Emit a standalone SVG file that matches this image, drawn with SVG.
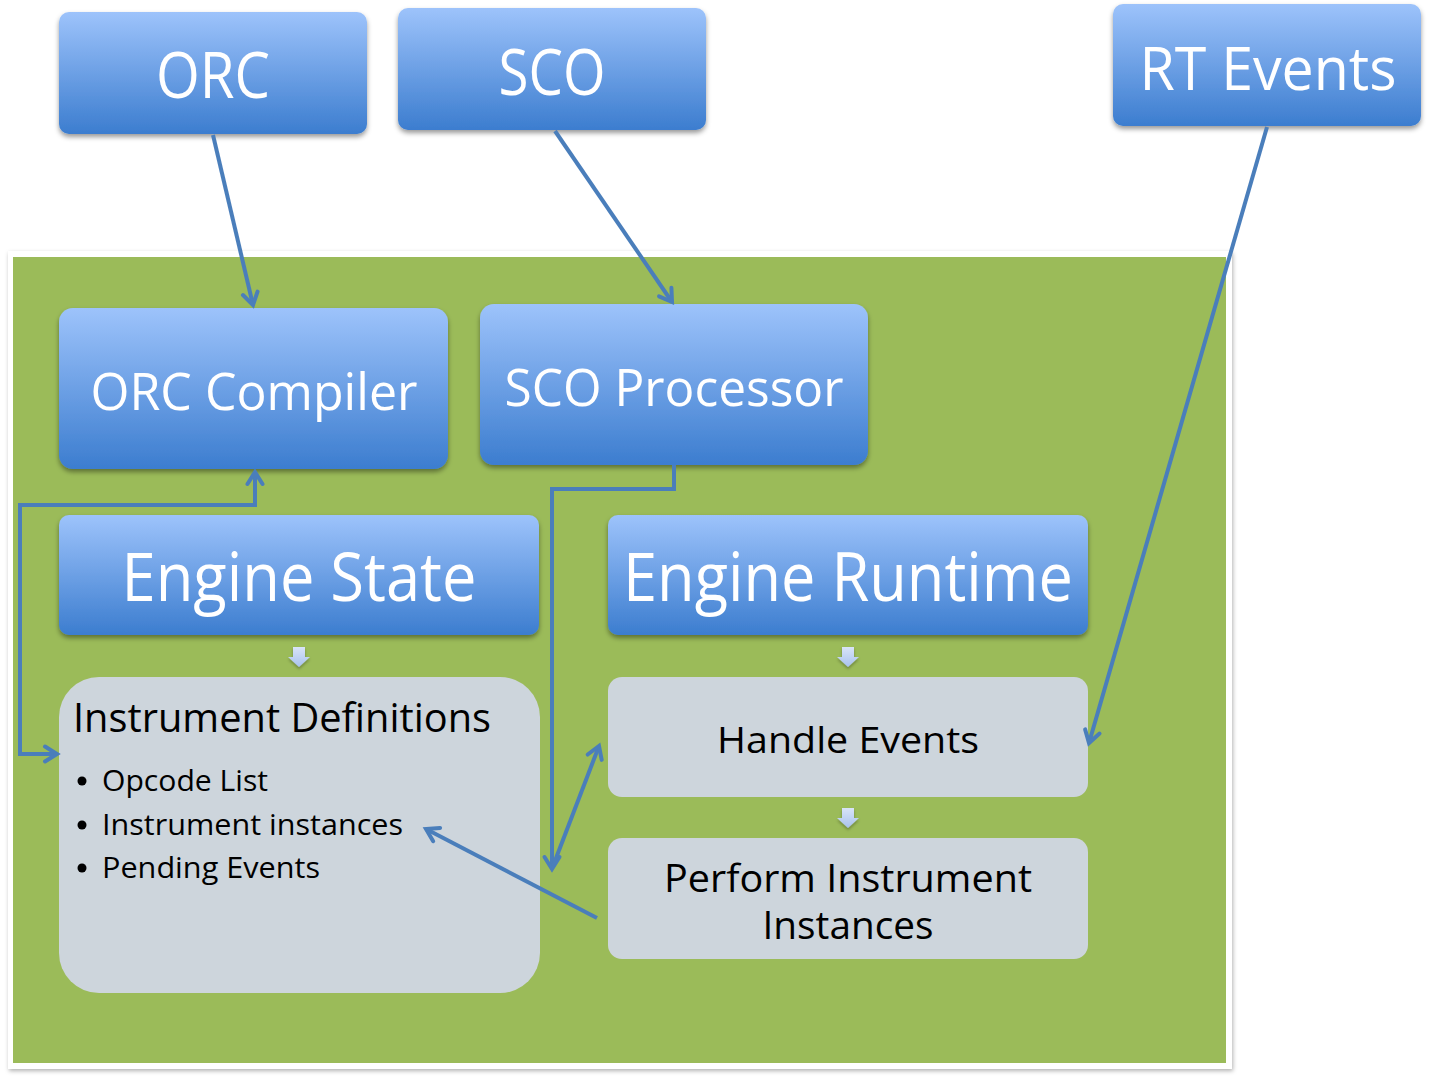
<svg xmlns="http://www.w3.org/2000/svg" width="1429" height="1080" viewBox="0 0 1429 1080">
<style>
.blue{fill:url(#gBlue);filter:url(#sh)}
.gray{fill:#cdd5dc}
.wt{font-family:"Open Sans","DejaVu Sans",sans-serif;fill:#ffffff;text-anchor:middle}
.bk{font-family:"Open Sans","DejaVu Sans",sans-serif;fill:#000000}
.bkc{font-family:"Open Sans","DejaVu Sans",sans-serif;fill:#000000;text-anchor:middle}
.con{fill:none;stroke:#4a7ebb;stroke-width:4;stroke-linejoin:miter}
.sa{fill:url(#gSmall);filter:url(#sh2)}
</style>
<defs>
<linearGradient id="gBlue" x1="0" y1="0" x2="0" y2="1">
<stop offset="0" stop-color="#9dc3fb"/>
<stop offset="1" stop-color="#3c7dcf"/>
</linearGradient>
<linearGradient id="gSmall" x1="0" y1="0" x2="0" y2="1">
<stop offset="0" stop-color="#d9e4f8"/>
<stop offset="1" stop-color="#a8c2ee"/>
</linearGradient>
<filter id="sh" x="-10%" y="-10%" width="120%" height="130%">
<feDropShadow dx="0" dy="3" stdDeviation="2.5" flood-color="#000" flood-opacity="0.4"/>
</filter>
<filter id="sh2" x="-50%" y="-50%" width="200%" height="200%">
<feDropShadow dx="0" dy="2" stdDeviation="1.5" flood-color="#000" flood-opacity="0.3"/>
</filter>
<filter id="sh3" x="-5%" y="-5%" width="110%" height="110%">
<feDropShadow dx="1" dy="2" stdDeviation="2" flood-color="#000" flood-opacity="0.3"/>
</filter>
<marker id="ah" markerUnits="userSpaceOnUse" markerWidth="30" markerHeight="30" viewBox="-15 -15 30 30" refX="0" refY="0" orient="auto-start-reverse">
<path d="M-12,-7.5 L0,0 L-12,7.5" fill="none" stroke="#4a7ebb" stroke-width="4" stroke-linecap="round" stroke-linejoin="miter"/>
</marker>
</defs>
<rect width="1429" height="1080" fill="#ffffff"/>

<g id="panel">
<rect x="8" y="251" width="1224" height="818" fill="#ffffff" filter="url(#sh3)"/>
<rect x="13" y="257" width="1213" height="806" fill="#9bbb59"/>
</g>

<g id="orc">
<rect class="blue" x="59" y="12" width="308" height="122" rx="10"/>
<text class="wt" x="213" y="98" font-size="64" textLength="114" lengthAdjust="spacingAndGlyphs">ORC</text>
</g>
<g id="sco">
<rect class="blue" x="398" y="8" width="308" height="122" rx="10"/>
<text class="wt" x="552" y="95" font-size="64" textLength="107" lengthAdjust="spacingAndGlyphs">SCO</text>
</g>
<g id="rt-events">
<rect class="blue" x="1113" y="4" width="308" height="122" rx="10"/>
<text class="wt" x="1268" y="90" font-size="60" textLength="257" lengthAdjust="spacingAndGlyphs">RT Events</text>
</g>
<g id="orc-compiler">
<rect class="blue" x="59" y="308" width="389" height="161" rx="14"/>
<text class="wt" x="254" y="410" font-size="52" textLength="327" lengthAdjust="spacingAndGlyphs">ORC Compiler</text>
</g>
<g id="sco-processor">
<rect class="blue" x="480" y="304" width="388" height="161" rx="14"/>
<text class="wt" x="674" y="406" font-size="52" textLength="339" lengthAdjust="spacingAndGlyphs">SCO Processor</text>
</g>
<g id="engine-state">
<rect class="blue" x="59" y="515" width="480" height="120" rx="10"/>
<text class="wt" x="299" y="601" font-size="67" textLength="355" lengthAdjust="spacingAndGlyphs">Engine State</text>
</g>
<g id="engine-runtime">
<rect class="blue" x="608" y="515" width="480" height="120" rx="10"/>
<text class="wt" x="848" y="601" font-size="67" textLength="450" lengthAdjust="spacingAndGlyphs">Engine Runtime</text>
</g>

<g id="small-arrows">
<path class="sa" d="M293,647 H305 V657 H310 L299,667 L288,657 H293 Z"/>
<path class="sa" d="M842,647 H854 V657 H859 L848,667 L837,657 H842 Z"/>
<path class="sa" d="M842,808 H854 V818 H859 L848,828 L837,818 H842 Z"/>
</g>

<g id="instrument-definitions">
<rect class="gray" x="59" y="677" width="481" height="316" rx="40"/>
<text class="bk" x="73" y="732" font-size="40" textLength="418" lengthAdjust="spacingAndGlyphs">Instrument Definitions</text>
<circle cx="82" cy="781" r="4.5" fill="#000"/>
<text class="bk" x="102" y="791" font-size="30" textLength="166" lengthAdjust="spacingAndGlyphs">Opcode List</text>
<circle cx="82" cy="825" r="4.5" fill="#000"/>
<text class="bk" x="102" y="835" font-size="30" textLength="301" lengthAdjust="spacingAndGlyphs">Instrument instances</text>
<circle cx="82" cy="868" r="4.5" fill="#000"/>
<text class="bk" x="102" y="878" font-size="30" textLength="218" lengthAdjust="spacingAndGlyphs">Pending Events</text>
</g>
<g id="handle-events">
<rect class="gray" x="608" y="677" width="480" height="120" rx="14"/>
<text class="bkc" x="848" y="753" font-size="37" textLength="262" lengthAdjust="spacingAndGlyphs">Handle Events</text>
</g>
<g id="perform-instances">
<rect class="gray" x="608" y="838" width="480" height="121" rx="14"/>
<text class="bkc" x="848" y="892" font-size="38" textLength="368" lengthAdjust="spacingAndGlyphs">Perform Instrument</text>
<text class="bkc" x="848" y="939" font-size="38" textLength="171" lengthAdjust="spacingAndGlyphs">Instances</text>
</g>

<g id="connectors">
<path class="con" d="M213,135 L253,305" marker-end="url(#ah)"/>
<path class="con" d="M555,131 L672,302" marker-end="url(#ah)"/>
<path class="con" d="M1267,127 L1089,743" marker-end="url(#ah)"/>
<path class="con" d="M255,472 V505 H20 V754 H57" marker-start="url(#ah)" marker-end="url(#ah)"/>
<path class="con" d="M674,465 V489 H552 V869" marker-end="url(#ah)"/>
<path class="con" d="M553,866 L599,746" marker-end="url(#ah)"/>
<path class="con" d="M597,918 L426,829" marker-end="url(#ah)"/>
</g>
</svg>
